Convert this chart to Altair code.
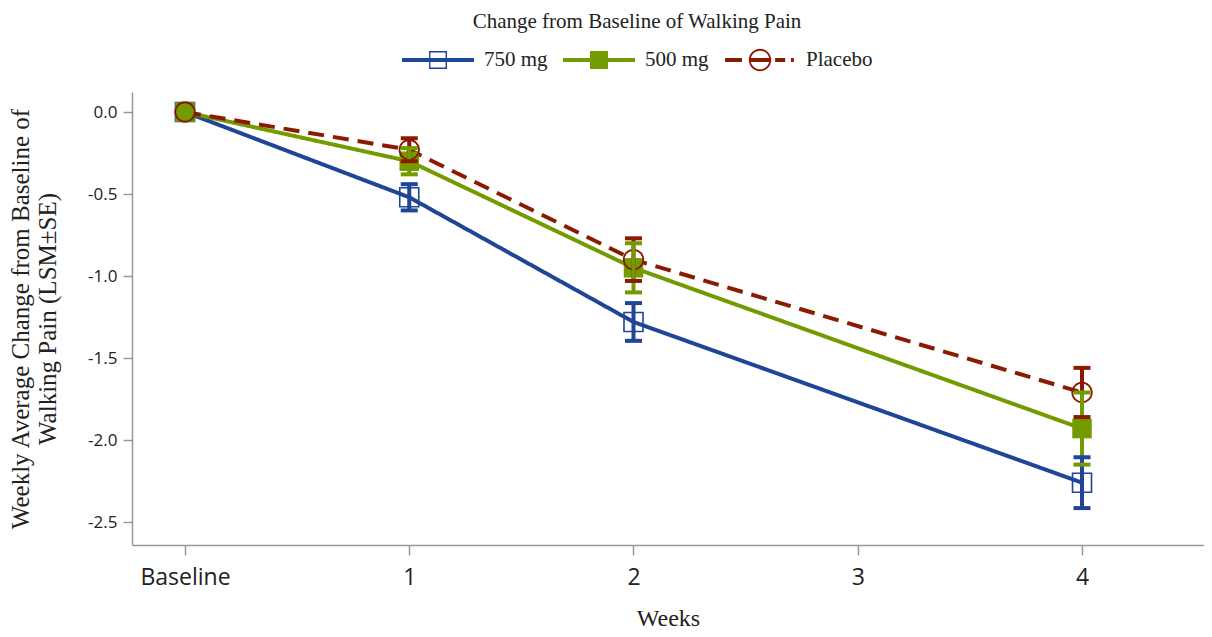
import altair as alt
import pandas as pd

# ---- data ----
weeks = [0, 1, 2, 4]
series_names = ["750 mg", "500 mg", "Placebo"]
lsm_750 = [0.0, -0.52, -1.28, -2.26]
se_750 = [0.0, 0.08, 0.115, 0.155]
lsm_500 = [0.0, -0.30, -0.95, -1.93]
se_500 = [0.0, 0.08, 0.15, 0.22]
lsm_pbo = [0.0, -0.23, -0.90, -1.71]
se_pbo = [0.0, 0.07, 0.13, 0.15]
x_ticks = [0, 1, 2, 3, 4]
y_ticks = [0.0, -0.5, -1.0, -1.5, -2.0, -2.5]

colors = ["#1f4596", "#739b00", "#8b1a00"]
LEG_TITLE = "Change from Baseline of Walking Pain"

rows = []
for name, lsm, se in [("750 mg", lsm_750, se_750), ("500 mg", lsm_500, se_500), ("Placebo", lsm_pbo, se_pbo)]:
    for w, m, s in zip(weeks, lsm, se):
        rows.append({"series": name, "week": w, "lsm": m, "lo": m - s, "hi": m + s, "se": s})
df = pd.DataFrame(rows)
order_map = {"Placebo": 0, "500 mg": 1, "750 mg": 2}
df_err = df[df["se"] > 0].copy()
df_err["ord"] = df_err["series"].map(order_map)
df_err = df_err.sort_values("ord")

color_scale = alt.Scale(domain=series_names, range=colors)
dash_scale = alt.Scale(domain=series_names, range=[[1, 0], [1, 0], [16, 9]])

# legend glyphs (line + marker) as filled custom symbol paths (holes via reversed winding)
p_line = "M-1,-0.055H1V0.055H-1Z"
p_sq_outer = "M-0.25,-0.25H0.25V0.25H-0.25Z"
p_sq_hole = "M-0.21,-0.21V0.21H0.21V-0.21Z"
p_750 = p_line + p_sq_outer + p_sq_hole
p_500 = p_line + p_sq_outer
p_pbo = ("M-0.97,-0.055H-0.5V0.055H-0.97Z"
         "M0.31,0A0.31,0.31,0,1,1,-0.31,0A0.31,0.31,0,1,1,0.31,0Z"
         "M0.26,0A0.26,0.26,0,1,0,-0.26,0A0.26,0.26,0,1,0,0.26,0Z"
         "M-0.31,-0.055H0.31V0.055H-0.31Z"
         "M0.42,-0.055H0.7V0.055H0.42Z"
         "M0.86,-0.055H0.94V0.055H0.86Z")
shape_scale = alt.Scale(domain=series_names, range=[p_750, p_500, p_pbo])

xscale = alt.Scale(domain=[-0.2363, 4.544], nice=False, zero=False)
yscale = alt.Scale(domain=[-2.640, 0.122], nice=False, zero=False)

x_enc = alt.X("week:Q", scale=xscale,
              axis=alt.Axis(values=x_ticks, title="Weeks",
                            labelExpr="datum.value == 0 ? 'Baseline' : format(datum.value, 'd')",
                            labelFont="Open Sans", labelFontSize=23, labelPadding=11,
                            tickSize=10, titlePadding=17, titleFontSize=24))
y_enc = alt.Y("lsm:Q", scale=yscale,
              axis=alt.Axis(values=y_ticks,
                            labelExpr="replace(format(datum.value, '.1f'), '\u2212', '-')",
                            title=["Weekly Average Change from Baseline of", "Walking Pain (LSM\u00b1SE)"],
                            labelFont="Open Sans", labelFontSize=17, labelPadding=6,
                            tickSize=9, titlePadding=27, titleLineHeight=27, titleFontSize=25))

leg_common = dict(title=LEG_TITLE, orient="none", legendX=270, legendY=-81, direction="horizontal")
color_enc = alt.Color("series:N", scale=color_scale, legend=alt.Legend(**leg_common))

base = alt.Chart(df)

legend_layer = base.transform_filter("false").mark_point(filled=True, strokeWidth=0).encode(
    x=x_enc, y=y_enc,
    color=color_enc,
    shape=alt.Shape("series:N", scale=shape_scale, legend=alt.Legend(**leg_common)),
)

lines = base.mark_line(strokeWidth=4).encode(
    x="week:Q", y="lsm:Q",
    color=color_enc,
    strokeDash=alt.StrokeDash("series:N", scale=dash_scale, legend=None),
    detail="series:N",
)

err_base = alt.Chart(df_err)
stems = err_base.mark_rule(strokeWidth=4, opacity=1).encode(
    x="week:Q", y="lo:Q", y2="hi:Q", color=color_enc,
)
caps_lo = err_base.mark_tick(orient="horizontal", size=17, thickness=4, opacity=1).encode(
    x="week:Q", y="lo:Q", color=color_enc,
)
caps_hi = err_base.mark_tick(orient="horizontal", size=17, thickness=4, opacity=1).encode(
    x="week:Q", y="hi:Q", color=color_enc,
)

pts_750 = base.transform_filter("datum.series == '750 mg'").mark_point(
    shape="square", filled=False, size=361, strokeWidth=1.6, opacity=1).encode(
    x="week:Q", y="lsm:Q", color=color_enc)
pts_500 = base.transform_filter("datum.series == '500 mg'").mark_point(
    shape="square", filled=True, size=380, opacity=1).encode(
    x="week:Q", y="lsm:Q", color=color_enc)
pts_pbo = base.transform_filter("datum.series == 'Placebo'").mark_point(
    shape="circle", filled=False, size=380, strokeWidth=1.8, opacity=1).encode(
    x="week:Q", y="lsm:Q", color=color_enc)

chart = alt.layer(legend_layer, lines, pts_750, pts_500, pts_pbo, stems, caps_lo, caps_hi).properties(
    width=1072, height=453,
    autosize=alt.AutoSizeParams(type="none"),
    padding={"left": 124, "top": 84, "right": 0, "bottom": 84},
).configure_view(stroke=None).configure_axis(
    grid=False, domainColor="#999999", domainWidth=1.5, tickColor="#999999", tickWidth=1.5,
    labelColor="#222222", titleFont="Liberation Serif",
    titleFontWeight="normal", titleColor="#222222",
).configure_legend(
    titleFont="Liberation Serif", titleFontSize=21, titleFontWeight="normal", titleColor="#222222",
    labelFont="Liberation Serif", labelFontSize=21, labelColor="#222222",
    titleAnchor="middle", titleOrient="top", titlePadding=15, titleLimit=1000, labelLimit=1000,
    symbolSize=5184, symbolStrokeWidth=0, labelOffset=10, columnPadding=15,
    clipHeight=26, padding=0, symbolOpacity=1,
)

chart.save("out.html", embed_options={"renderer": "svg", "actions": False})
